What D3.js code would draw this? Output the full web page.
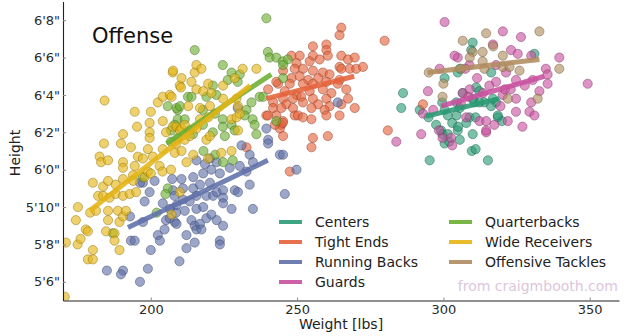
<!DOCTYPE html>
<html>
<head>
<meta charset="utf-8">
<script src="https://cdn.jsdelivr.net/npm/d3@7"></script>
<style>
  body { margin: 0; background: #fff; }
  svg { display: block; }
  text { font-family: "DejaVu Sans", sans-serif; }
</style>
</head>
<body>
<div id="chart"></div>
<script>
/**
 * DATA  (weight in lbs, height in inches)
 * */
const positions = ["Centers", "Tight Ends", "Running Backs", "Guards",
  "Quarterbacks", "Wide Receivers", "Offensive Tackles"];
const colors = ["#2a9a74", "#e5623a", "#5f70a8", "#c8509e",
  "#6cae32", "#e4b414", "#b08c60"];

const heightTicks = [66, 68, 70, 72, 74, 76, 78, 80];
const heightLabels = ["5'6\"", "5'8\"", "5'10\"", "6'0\"", "6'2\"", "6'4\"", "6'6\"", "6'8\""];
const weightTicks = [200, 250, 300, 350];

const centers = [[286.2,76.1],[285.6,75.3],[291.9,75.2],[294.9,74.8],[295.3,72.5],[299.6,75.6],[300.4,75.2],[304.4,75.6],[305.6,75.3],[311.2,76.4],[310.6,75.6],[314,75.6],[318,75.6],[301.5,74.9],[304.5,74.9],[308.9,74.8],[311,74.8],[318.6,74.8],[320,74.6],[299.2,74.1],[299.7,73.9],[301.5,73.9],[304.9,74.1],[310,73.9],[309.7,73],[311,73.1],[315.2,72.5],[305.6,77.4],[310,78.8],[309.5,78.4],[304.9,77.2],[300.4,76.9],[306.6,76.1],[312.3,75.6],[316.3,75.4],[303,74.5],[307.8,74.5],[305,74.3],[331.1,78.2],[316.3,77.2],[316.9,75.8],[318.6,74.9],[297.5,74.4],[300.4,73.4],[302,73.5],[305.6,73.6],[312.3,76.2],[310,75.8]];

const tightEnds = [[265.1,79.6],[264.5,79.2],[279.9,78.9],[255.4,78.6],[260,78.7],[260,78.4],[248.1,78.1],[250.9,78.1],[255.4,78.1],[249.8,77.7],[254.3,77.8],[257.7,77.9],[260.5,78.1],[265.1,78.1],[267.4,77.9],[269.7,78],[264.5,77.5],[265.1,77.4],[268,77.4],[270.2,77.4],[272.5,77.5],[245.2,77.3],[249.2,77.4],[252,77.4],[255.4,77.3],[258.8,77.2],[261.1,77.1],[248.1,76.9],[250.9,77],[253.8,76.8],[257.2,76.9],[243.5,76.6],[247.5,76.6],[252,76.6],[255.4,76.6],[260,76.7],[264.5,76.8],[263.9,76.6],[240.1,76.3],[245.8,76.2],[249.8,76],[254.3,76.2],[258.8,76.3],[261.7,76.1],[266.8,76.3],[245.2,75.8],[248.6,75.8],[251.4,75.9],[255.4,75.8],[260,75.8],[267.4,75.8],[241.8,75.6],[246.3,75.5],[252,75.6],[257.2,75.5],[261.1,75.4],[265.1,75.5],[269.7,75.3],[241.8,75.3],[248.6,75.3],[254.9,75.3],[259.4,75.2],[239.5,74.9],[242.9,74.9],[249.2,74.9],[250.3,74.9],[252,74.8],[254.9,74.7],[260,74.9],[264.5,74.9],[244.6,74.4],[245.2,74.6],[244.1,74.2],[245.2,73.8],[255.4,73.7],[260.5,73.8],[254.9,73.2],[247.5,71.9],[281,74.1],[293,75.5],[232.7,73.2],[242.9,76.7],[244.6,75.3],[245.1,74.5],[242.4,74.4],[240,74.9]];

const runningBacks = [[185,66.6],[190.5,66.6],[189.8,66.4],[196.3,66],[199,66.7],[193.2,68.2],[194.5,68.2],[197.3,69.2],[197.3,71.3],[197.9,70.3],[199.6,70.8],[201.3,71.4],[200,67.7],[202.4,68.5],[203.1,68.2],[204.1,70.2],[204.7,68.8],[205.2,69.3],[206.5,69.9],[206.5,69.4],[207.3,71.5],[207.6,70.9],[208.1,70.6],[208.2,69.2],[208.6,69.7],[208.8,70.1],[208.8,69.1],[209.8,67.1],[210.5,71.5],[211,71],[211,70.4],[211.6,69.8],[212.2,68.5],[212.2,67.8],[213.3,70.3],[213.9,69.3],[214.5,71.6],[214.5,71],[215,69],[215.6,72.5],[215.6,70.6],[215.6,69.9],[215.6,68.8],[216.8,71.2],[216.8,69.1],[217.3,68.8],[217.9,71.8],[217.9,70],[218.5,72.3],[219,70.6],[219,69.4],[220.2,72.6],[220.2,71.3],[220.7,72],[220.7,69.6],[221.3,70.6],[222.5,72.4],[222.5,70.8],[222.5,69.3],[223.6,71.8],[223.6,68.2],[223.6,68],[224.7,70.9],[224.7,70.5],[224.7,70.2],[224.7,69],[227,72.1],[227.6,69.9],[228.7,70.9],[229.8,70.8],[230.4,72.2],[231,73.3],[232.7,71.9],[233.8,72.8],[233.8,71.2],[234.9,72.4],[234.9,69.9],[239.5,74.2],[240.1,73.6],[240.1,73.4],[244.1,72.8],[245.2,72.8],[245.8,70.7],[249.8,72],[263.9,75.6],[229.7,75.3],[192.9,69.5],[196.3,71.3],[215,68.1]];

const guards = [[300.4,79.9],[304.9,78],[298.7,77.4],[294.7,76.2],[308.9,77.6],[293,75],[306.6,76.1],[283.9,73.5],[292.4,73.9],[299.7,73.7],[302.6,73.7],[314.6,74],[312.3,74.6],[307.8,74.8],[315.7,76.5],[320.3,79.4],[326.5,79.1],[316.9,78.7],[323.1,78.4],[325.4,78.2],[330,78.1],[339.6,78],[335,77.4],[335.6,77.1],[321.4,77.2],[324.8,76.8],[330.5,76.8],[335.6,76.6],[349.3,76.6],[327.8,76.5],[332.8,76.2],[320.3,76],[324.8,75.8],[330,75.6],[324.8,75.1],[329.4,75.1],[331.1,74.9],[314.6,74.6],[317.4,74.4],[314.6,74.1],[303.8,78.1],[307.5,77.4],[311.5,76.9],[318,76.7],[321,76.3],[309,76.3],[313.5,76.1],[319.5,75.4],[306,75.5],[298.5,74.1],[303,73.3],[296.5,75.2],[327,74.3],[322,74.6],[318,77.6],[308.5,75.9],[323,76.3]];

const quarterbacks = [[197.3,71.6],[205.8,71],[205,70.7],[205.8,75.4],[209.2,75.2],[209.2,74.7],[206.9,74.1],[209.2,73.7],[206.9,73.5],[215,78.4],[224.6,77.6],[227.6,77.2],[230.4,77.1],[226.3,76.8],[229.7,76.7],[239.5,80.1],[240,78.3],[240.6,78],[242.9,78],[245.1,77.8],[246.8,77.9],[245.2,77.6],[245.2,76.9],[237.2,75.9],[221.2,76.5],[222.4,76],[219,75.9],[212.7,75.9],[208.8,75.3],[211.6,74.7],[217.8,75.2],[221.9,75],[224.6,74.7],[227.6,74.4],[232.7,75.2],[232.1,74.9],[228.7,74.1],[234.8,74.7],[235.5,74.4],[236.1,73.9],[208.2,74.4],[213.3,74.1],[217.8,74.4],[224.6,74.3],[221.2,74],[225.3,73.8],[214.4,73.9],[234.4,75.6],[238.4,75.9],[242.9,74.6],[224.7,72.4],[218,73],[222,72.8],[228,72.5],[213.9,75.9],[210,75.4],[202,69.7],[187,68.6]];

const wideReceivers = [[170.6,65.2],[171,68.1],[175,68],[176,68.3],[174.4,69.3],[175.1,70],[178.5,67.2],[180.2,67.2],[180.2,67.7],[177.8,68.8],[178.5,68.7],[179.3,69.7],[180.2,71.3],[181.3,69.8],[182,70.6],[183.7,70.6],[183.7,71.1],[185.4,71.4],[184.2,75.7],[184,73.4],[182.5,72.7],[183,72.4],[185.4,72.5],[185.4,69.8],[185.4,69.3],[184.7,68.7],[185.9,70.5],[187.6,68.6],[187.6,68.2],[188,70.7],[188,71.2],[188.8,69.8],[189.3,69.2],[189.3,67.7],[189.8,73.4],[190.5,73.9],[190.5,72.4],[190.5,72.1],[190.5,71.5],[190.5,70.6],[190.5,69.5],[191.5,69.8],[192.8,70.7],[193.2,73.2],[193.9,71.7],[194,71.4],[194.5,75.1],[194.5,72.2],[195,70.8],[195.3,74.3],[195.6,72.7],[197.3,72.6],[197.9,71.6],[199,73.1],[199,71.9],[199.6,74.5],[199.6,74],[199.6,73.7],[200,75.1],[200,71.8],[200.7,72.7],[202.4,75.6],[203,72.2],[204,71.9],[204.1,75.9],[204.1,74.6],[204.1,73.1],[205.2,74],[206.5,76],[206.9,72],[207.1,75.9],[207.5,77.2],[207.5,74.3],[207.6,77.3],[208.2,72.9],[208.6,73.4],[208.8,74.3],[209.9,76.5],[209.9,70.8],[210,74.1],[210.3,76.4],[210.5,76.9],[210.5,74.2],[210.5,73],[211.6,74.4],[211.6,73.6],[212.2,72.4],[212.8,75.4],[213.3,73.8],[213.9,76.7],[214.5,72.8],[215,77.2],[215.6,77.6],[215.6,76.3],[215.6,74.2],[216.8,75.3],[216.8,74.7],[217.3,77.4],[217.9,76.2],[219,73.6],[219.6,76.6],[219.6,74.8],[219.6,72.6],[220.2,75.4],[220.2,73.8],[220.7,76.1],[224.1,72.9],[224.7,76.5],[224.7,75.8],[227.6,74.7],[227.6,73],[228.7,76.9],[229.3,75.8],[229.3,74.8],[229.8,75.4],[229.8,74.1],[230.4,75],[231.4,77.4],[236.1,77.4],[207.1,69.6]];

const offensiveTackles = [[314.6,79.3],[306.6,78.9],[310,78.3],[313.4,77.8],[295,77.2],[306,77.4],[299.7,75.9],[320.3,77.5],[332.8,79.4],[313.4,78.3],[320.3,78.1],[322.6,77.5],[339.6,77.4],[322,75.8],[332.2,75.8],[314,77.4],[309,78],[300,76.6],[326,77.3],[317,78.6]];

// fitted trend lines: [weight0, height0, weight1, height1]
const trendLines = [
  [294, 74.85, 319, 75.8],
  [239.5, 75.8, 269.5, 77.0],
  [192.2, 68.9, 240, 72.5],
  [299.2, 75.4, 334.5, 77.0],
  [205.4, 73.4, 241.2, 77.1],
  [179.1, 69.8, 234, 76.5],
  [294.6, 77.2, 332.8, 77.9]
];

const playerData = [centers, tightEnds, runningBacks, guards,
  quarterbacks, wideReceivers, offensiveTackles];

/**
 * CONSTANTS
 * */
const width = 631, height = 336;
const margin = { top: 1.5, right: 12, bottom: 35.5, left: 63 };

const svg = d3.select("#chart")
  .append("svg")
  .attr("width", width)
  .attr("height", height);

const xScale = d3.scaleLinear()
  .domain([170, 360])
  .range([margin.left, width - margin.right]);

const yScale = d3.scaleLinear()
  .domain([65, 81])
  .range([height - margin.bottom, margin.top]);

svg.append("clipPath")
  .attr("id", "plot-clip")
  .append("rect")
  .attr("x", margin.left)
  .attr("y", margin.top)
  .attr("width", width - margin.left - margin.right)
  .attr("height", height - margin.top - margin.bottom);

const plot = svg.append("g").attr("clip-path", "url(#plot-clip)");

// scatter, one group per position
playerData.forEach((pts, i) => {
  const c = colors[i];
  plot.append("g")
    .attr("class", "pos-" + i)
    .selectAll("circle")
    .data(pts)
    .join("circle")
    .attr("cx", d => xScale(d[0]))
    .attr("cy", d => yScale(d[1]))
    .attr("r", 4.6)
    .attr("fill", c)
    .attr("fill-opacity", 0.62)
    .attr("stroke", d3.color(c).darker(1.3))
    .attr("stroke-opacity", 0.6)
    .attr("stroke-width", 0.8);
});

// trend lines on top
plot.selectAll("line.trend")
  .data(trendLines)
  .join("line")
  .attr("class", "trend")
  .attr("x1", d => xScale(d[0]))
  .attr("y1", d => yScale(d[1]))
  .attr("x2", d => xScale(d[2]))
  .attr("y2", d => yScale(d[3]))
  .attr("stroke", (d, i) => colors[i])
  .attr("stroke-width", 5)
  .attr("stroke-opacity", 0.88)
  .attr("stroke-linecap", "butt");

/**
 * AXES
 * */
const yAxis = d3.axisLeft(yScale)
  .tickValues(heightTicks)
  .tickFormat((d, i) => heightLabels[i])
  .tickSizeInner(-3)
  .tickSizeOuter(0)
  .tickPadding(3);

const xAxis = d3.axisBottom(xScale)
  .tickValues(weightTicks)
  .tickSizeInner(-3)
  .tickSizeOuter(0)
  .tickPadding(4);

const gy = svg.append("g")
  .attr("transform", `translate(${margin.left},0)`)
  .call(yAxis);

const gx = svg.append("g")
  .attr("transform", `translate(0,${height - margin.bottom})`)
  .call(xAxis);

[gx, gy].forEach(g => {
  g.select(".domain").attr("stroke", "#222").attr("stroke-width", 1.1);
  g.selectAll(".tick line").attr("stroke", "#888");
  g.selectAll(".tick text")
    .attr("fill", "#2a2a2a")
    .style("font-size", "13px")
    .style("font-family", "'DejaVu Sans', sans-serif");
});

svg.append("text")
  .attr("transform", "translate(20,153) rotate(-90)")
  .attr("text-anchor", "middle")
  .attr("fill", "#222")
  .style("font-size", "14px")
  .text("Height");

svg.append("text")
  .attr("x", (margin.left + width - margin.right) / 2)
  .attr("y", 329)
  .attr("text-anchor", "middle")
  .attr("fill", "#222")
  .style("font-size", "14px")
  .text("Weight [lbs]");

svg.append("text")
  .attr("x", 92)
  .attr("y", 43)
  .attr("fill", "#111")
  .style("font-size", "21px")
  .text("Offense");

/**
 * LEGEND
 * */
const legend = svg.append("g")
  .selectAll("g")
  .data(positions)
  .join("g")
  .attr("transform", (d, i) => `translate(${i < 4 ? 279 : 449},${222 + (i % 4) * 20})`);

legend.append("line")
  .attr("x1", 0).attr("x2", 23)
  .attr("stroke", (d, i) => colors[i])
  .attr("stroke-width", 4)
  .attr("stroke-opacity", 0.9);

legend.append("text")
  .attr("x", 36)
  .attr("dy", "0.36em")
  .attr("fill", "#222")
  .style("font-size", "14px")
  .text(d => d);

svg.append("text")
  .attr("x", 618)
  .attr("y", 291)
  .attr("text-anchor", "end")
  .attr("fill", "#dcc6dc")
  .style("font-size", "14px")
  .text("from craigmbooth.com");
</script>
</body>
</html>
